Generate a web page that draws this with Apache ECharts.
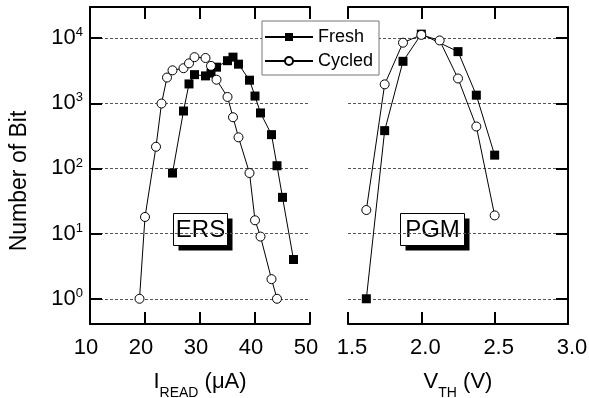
<!DOCTYPE html>
<html>
<head>
<meta charset="utf-8">
<script src="https://cdn.jsdelivr.net/npm/echarts@6/dist/echarts.min.js"></script>
<style>
    html, body { margin: 0; padding: 0; background: #fff; }
    #chart { width: 589px; height: 398px; }
</style>
</head>
<body>
<div id="chart"></div>
<script>
// ERS panel: read current (uA)
const ersFreshX = [25, 27, 28, 29, 31, 32, 33, 35, 36, 37, 39, 40, 41, 43, 44, 45, 47];
const ersFresh = [85, 760, 1980, 2750, 2630, 2900, 3580, 4500, 5100, 3980, 2260, 1290, 710, 330, 110, 36, 4];
const ersCycledX = [19, 20, 22, 23, 24, 25, 27, 28, 29, 31, 32, 33, 35, 36, 37, 39, 40, 41, 43, 44];
const ersCycled = [1, 18, 215, 990, 2480, 3200, 3450, 4100, 5100, 4950, 3750, 2300, 1250, 610, 300, 85, 16, 9, 2, 1];

// PGM panel: threshold voltage (V)
const pgmFreshX = [1.625, 1.75, 1.875, 2.0, 2.25, 2.375, 2.5];
const pgmFresh = [1, 380, 4400, 11500, 6200, 1330, 160];
const pgmCycledX = [1.625, 1.75, 1.875, 2.0, 2.125, 2.25, 2.375, 2.5];
const pgmCycled = [23, 1950, 8500, 11200, 9200, 2400, 440, 19];

const FONT = '"Liberation Sans", Arial, sans-serif';

function pairs(xs, ys) {
    return xs.map((x, i) => [x, ys[i]]);
}

const axisLine = { show: true, lineStyle: { color: '#000', width: 2 } };
const axisTick = { show: true, inside: true, length: 12, lineStyle: { color: '#000', width: 2 } };

function xAxis(gridIndex, pos, min, max, interval, labels, pad) {
    const ax = {
        type: 'value', gridIndex: gridIndex, position: pos,
        min: min, max: max, interval: interval,
        axisLine: axisLine, axisTick: axisTick,
        splitLine: { show: false },
        axisLabel: { show: false }
    };
    if (labels) {
        ax.axisLabel = {
            show: true, color: '#000', fontSize: 22, fontFamily: FONT,
            margin: 13, padding: pad,
            formatter: (v) => interval < 1 ? v.toFixed(1) : String(v)
        };
    }
    return ax;
}

function logLabel(v) {
    const l = Math.log10(v);
    const n = Math.round(l);
    if (Math.abs(l - n) > 0.01) return '';
    return '{b|10}{s|' + n + '}';
}

function yAxis(gridIndex, pos, labels) {
    return {
        type: 'log', gridIndex: gridIndex, position: pos,
        min: 0.41, max: 30000,
        axisLine: axisLine, axisTick: axisTick,
        splitLine: { show: true, lineStyle: { color: '#555', width: 1, type: [3, 2] } },
        axisLabel: labels ? {
            show: true, color: '#000', margin: 7, fontFamily: FONT,
            formatter: logLabel,
            rich: {
                b: { fontSize: 22, lineHeight: 22, fontFamily: FONT, color: '#000' },
                s: { fontSize: 13, lineHeight: 13, fontFamily: FONT, color: '#000', padding: [0, 0, 11, 0] }
            }
        } : { show: false }
    };
}

function series(name, xi, yi, data, filled) {
    return {
        name: name, type: 'line', xAxisIndex: xi, yAxisIndex: yi,
        data: data,
        symbol: filled ? 'rect' : 'circle',
        symbolSize: 9,
        showSymbol: true,
        lineStyle: { color: '#000', width: 1 },
        itemStyle: filled ? { color: '#000', borderWidth: 0 } : { color: '#fff', borderColor: '#000', borderWidth: 1 },
        emphasis: { disabled: true },
        animation: false
    };
}

const nameRich = {
    m: { fontSize: 22, lineHeight: 22, fontFamily: FONT, color: '#000' },
    s: { fontSize: 14, lineHeight: 14, fontFamily: FONT, color: '#000', padding: [22, 0, 0, 0] }
};

function boxLabel(x, y, w, h, text) {
    return {
        type: 'group', left: x, top: y,
        children: [
            { type: 'rect', shape: { x: 5, y: 5, width: w, height: h }, style: { fill: '#000' } },
            { type: 'rect', shape: { x: 0, y: 0, width: w, height: h }, style: { fill: '#fff', stroke: '#000', lineWidth: 1 } },
            { type: 'text', x: w / 2, y: h / 2 + 1, style: { text: text, fontSize: 24, fontFamily: FONT, fill: '#000', align: 'center', verticalAlign: 'middle' } }
        ]
    };
}

const chart = echarts.init(document.getElementById('chart'), null, { renderer: 'canvas' });

const bottomName = (txt) => ({
    nameLocation: 'middle', nameGap: 31,
    nameTextStyle: { rich: nameRich, fontFamily: FONT },
    name: txt
});

const xs = [
    Object.assign(xAxis(0, 'bottom', 10, 50, 10, true, [0, 8, 0, 0]), bottomName('{m|I}{s|READ}{m| (μA)}')),
    xAxis(0, 'top', 10, 50, 10, false),
    Object.assign(xAxis(1, 'bottom', 1.5, 3.0, 0.5, true, [0, 0, 0, 8]), bottomName('{m|V}{s|TH}{m| (V)}')),
    xAxis(1, 'top', 1.5, 3.0, 0.5, false)
];

const option = {
    backgroundColor: '#fff',
    animation: false,
    grid: [
        { left: 90, top: 7, width: 220, height: 317, outerBoundsMode: 'none', containLabel: false },
        { left: 348, top: 7, width: 220, height: 317, outerBoundsMode: 'none', containLabel: false }
    ],
    xAxis: xs,
    yAxis: [yAxis(0, 'left', true), yAxis(1, 'right', false)],
    legend: {
        orient: 'vertical', left: 262, top: 21,
        itemWidth: 48, itemHeight: 10, itemGap: 6,
        padding: [7, 6, 5, 2],
        backgroundColor: '#fff', borderColor: '#777', borderWidth: 1,
        textStyle: { fontSize: 18, fontFamily: FONT, color: '#000' },
        data: ['Fresh', 'Cycled'],
        selectedMode: false
    },
    graphic: [
        {
            type: 'text', x: 20, y: 181, rotation: Math.PI / 2,
            style: { text: 'Number of Bit', fontSize: 23, fontFamily: FONT, fill: '#000', align: 'center', verticalAlign: 'middle' }
        },
        boxLabel(173, 213, 54, 32, 'ERS'),
        boxLabel(400, 213, 64, 32, 'PGM')
    ],
    series: [
        series('Fresh', 0, 0, pairs(ersFreshX, ersFresh), true),
        series('Cycled', 0, 0, pairs(ersCycledX, ersCycled), false),
        series('Fresh', 2, 1, pairs(pgmFreshX, pgmFresh), true),
        series('Cycled', 2, 1, pairs(pgmCycledX, pgmCycled), false)
    ]
};

chart.setOption(option);
</script>
</body>
</html>
